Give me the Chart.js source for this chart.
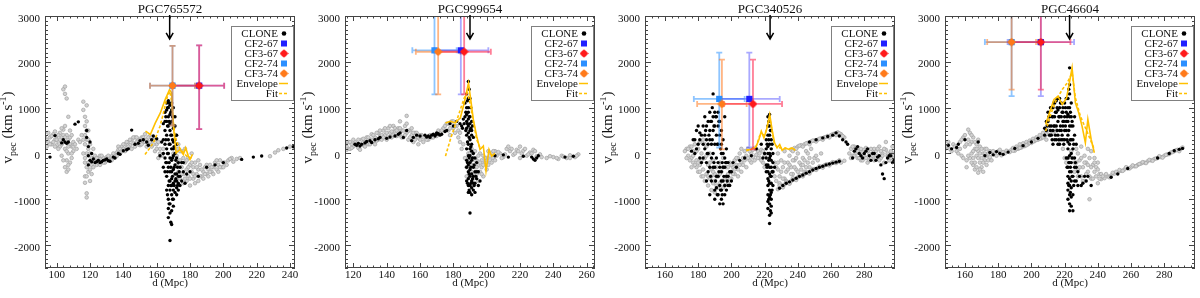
<!DOCTYPE html>
<html>
<head>
<meta charset="utf-8">
<script src="https://cdn.jsdelivr.net/npm/chart.js@4"></script>
<style>
html, body { margin: 0; padding: 0; background: #fff; }
#wrap { display: flex; width: 1200px; height: 298px; }
canvas { display: block; }
</style>
</head>
<body>
<div id="wrap">
  <canvas id="c0" width="300" height="298"></canvas>
  <canvas id="c1" width="300" height="298"></canvas>
  <canvas id="c2" width="300" height="298"></canvas>
  <canvas id="c3" width="300" height="298"></canvas>
</div>
<script>
const titles = ["PGC765572", "PGC999654", "PGC340526", "PGC46604"]
const xRanges = [[93, 243], [115, 265], [148, 298.5], [148, 298.5]]
const yRange = [-2500, 3000]
const arrowX = [167.8, 190, 223.3, 223]
const arrowV = [3000, 2500]
const legendLabels = ["CLONE", "CF2-67", "CF3-67", "CF2-74", "CF3-74", "Envelope", "Fit"]

// CLONE points, gray (light) and black
const gray1 = [[94,300],[95,250],[96,350],[97,200],[98,420],[99,300],[100,180],[100,380],[101,260],[102,450],[102,150],[103,350],[103,-50],[104,520],[104,250],[104,1400],[105,1460],[105,1300],[105,-300],[105,600],[105,100],[106,1200],[106,400],[106,-150],[106,-400],[107,300],[107,800],[107,0],[107,-350],[108,200],[108,500],[108,-200],[109,150],[109,-100],[110,250],[110,50],
  [116,1130],[116,950],[117,800],[117,600],[117,400],[117,200],[117,-200],[117,-500],[117,-640],[118,-870],[118,-960],[118,1050],[118,700],[118,300],[118,0],[118,-300],[119,500],[119,100],[119,-400],[120,-600],[120,200],[121,-250],[121,-450],[122,-100],[122,100],
  [123,-150],[124,-250],[125,-100],[125,-200],[126,-50],[127,-150],[128,-100],[129,-200],[130,-80],[131,-120],[132,-150],[133,-60],[134,-100],[135,-30],
  [136,20],[137,80],[138,0],[139,150],[140,100],[141,200],[142,120],[143,250],[144,180],[145,300],[146,220],[147,350],[148,250],[149,300],[150,180],[151,350],[152,250],[153,420],[154,300],[155,200],[156,380],[157,150],[158,300],[159,50],[160,200],[161,-100],[162,100],
  [170,0],[171,-100],[172,-250],[172,100],[173,-400],[173,200],[174,-150],[174,-550],[175,-300],[175,50],[176,-450],[176,-650],[177,-200],[177,100],[178,-350],[178,-600],[179,-100],[179,-500],[180,-700],[180,-250],[181,-400],[181,0],[182,-550],[182,-300],[183,-200],[183,-650],[184,-450],[185,-350],[185,-600],[186,-250],[187,-500],[188,-400],[189,-300],[190,-450],[191,-350],[192,-250],[193,-400],[194,-300],[195,-200],[196,-350],[197,-250],[198,-150],[199,-300],
  [200,-200],[203,-150],[205,-100],[206,-180],[208,-120],[228,-60],[231,20],[233,70],[236,100],[240,150],
  [93,350],[94,150],[95,450],[96,200],[97,380],[98,250],[99,150],[99,480],[100,300],[101,400],[101,100],[102,300],[103,200],[103,550],[104,400],[104,-150],[105,350],[106,50],[107,150],[107,-250],[108,350],[109,400],[109,0],[110,150],[111,200],[112,100],[113,300],[114,250],[115,400],[116,300],[116,0],[117,-100],[118,500],[118,-500],[119,-200],[119,300],[120,0],[120,-350],[121,-100],[122,-300],[123,-50],[124,-100],[126,-250],[127,-50],[128,-200],[130,-150],[131,-50],[133,-150],[134,0],[136,-60],[137,150],[138,100],[139,50],[140,200],[141,50],[142,250],[143,150],[144,300],[145,100],[146,350],[147,150],[148,350],[149,200],[150,300],[151,200],[152,350],[153,250],[154,150],[155,350],[156,250],[157,350],[158,200],[159,300],[160,100],[161,250],[162,0],[163,-50],[164,100],
  [172,-50],[173,-200],[174,50],[175,-450],[176,-100],[177,-550],[178,-150],[179,-300],[180,-550],[181,-200],[182,-450],[183,-500],[184,-300],[185,-150],[186,-500],[187,-350],[188,-550],[189,-450],[190,-250],[191,-500],[192,-400],[193,-300],[194,-450],[196,-150],[197,-400],[198,-300],[200,-300],[201,-200],[202,-250],[204,-120],[210,-100]]
const black1 = [[96,-80],[99,390],[104,300],[105,250],[106,220],[111,640],[113,690],[118,350],[119,150],[119,-50],[120,250],[120,-150],[121,0],[122,-120],[124,-180],[126,-200],[128,-150],[130,-120],[132,-170],[135,-100],[138,-20],[140,60],[143,100],[145,510],[147,200],[150,280],[152,300],[155,180],[158,380],
  [165,900],[166,1100],[166,700],[166,400],[166,100],[166,-200],[166,-500],[167,1000],[167,800],[167,600],[167,300],[167,0],[167,-300],[167,-700],[167,-1200],[167,-1400],[168,1050],[168,850],[168,500],[168,200],[168,-100],[168,-400],[168,-800],[168,-1100],[168,-1900],[169,950],[169,700],[169,400],[169,100],[169,-150],[169,-550],[169,-900],[169,-1250],[169,-1550],[170,800],[170,550],[170,250],[170,-50],[170,-350],[170,-650],[170,-1000],[171,600],[171,300],[171,-250],[171,-600],[171,-850],[172,400],[172,-450],[172,-750],[173,-500],[173,-800],[174,-300],[174,-700],[165,500],[165,200],[165,-100],[164,300],[164,650],[163,250],
  [176,-200],[180,-400],[185,-500],[190,-300],[195,-250],[200,-200],[211,-130],[218,-80],[223,-55],[238,120],[242,145],
  [164,0],[164,-300],[165,700],[165,-400],[166,950],[166,-800],[167,1150],[167,-1000],[168,650],[168,-600],[168,-1300],[169,1100],[169,-400],[169,-700],[170,1000],[170,100],[170,-800],[170,-1150],[171,800],[171,0],[171,-450],[172,200],[172,-100],[172,-600],[172,-900],[173,-200],[173,-650],[174,-500],[175,-600],[175,-200],[176,-400],[177,-650],[178,-450],
  [121,-180],[123,-200],[125,-150],[127,-180],[129,-140],[131,-160],[134,-80],[137,0],[142,80],[149,220],[154,250],[157,300],[160,320],[162,-50],[107,250],[103,230],[118,500],[119,-250],
  [165.5,800],[165.5,300],[165.5,-200],[166.5,1000],[166.5,600],[166.5,0],[166.5,-400],[166.5,-900],[167.5,1100],[167.5,700],[167.5,200],[167.5,-200],[167.5,-600],[167.5,-1100],[168.5,900],[168.5,400],[168.5,-300],[168.5,-700],[168.5,-1500],[169.5,800],[169.5,300],[169.5,-100],[169.5,-500],[169.5,-1000],[170.5,600],[170.5,150],[170.5,-300],[170.5,-700],[171.5,400],[171.5,-150],[171.5,-550],[172.5,-300],[172.5,-700],[173.5,-400]]

const gray2 = [[116,150],[117,250],[118,100],[119,200],[120,150],[121,250],[123,120],[124,200],[125,300],[126,180],[127,250],[128,350],[129,200],[130,300],[131,420],[132,250],[133,350],[134,280],[135,450],[136,380],[137,300],[138,500],[139,400],[140,300],[141,550],[142,450],[143,350],[144,600],[145,480],[146,380],[147,550],[148,700],[148,420],[149,500],[150,350],[151,600],[152,820],[152,450],[153,300],[154,500],[155,400],[156,250],[157,450],[158,350],[159,200],[160,300],[161,400],[162,250],[163,350],[165,300],[167,350],[169,400],[172,450],[174,550],[176,650],[177,500],[178,400],[179,700],[180,550],[181,450],[182,600],[183,350],[184,250],[185,100],
  [187,-100],[188,-300],[189,0],[190,-200],[191,-400],[191,100],[192,-100],[192,-550],[193,-300],[193,50],[194,-450],[194,-150],[195,-250],[195,-600],[196,0],[196,-400],[197,-150],[197,-300],[198,-50],[198,-500],[199,-200],[200,-100],[200,-350],[201,50],[202,-150],[203,0],[204,-100],[205,50],[206,-50],[208,0],[210,-80],[212,100],[214,50],[216,-30],[218,80],[220,150],[221,0],[222,60],[224,-50],[226,20],[228,80],[230,-60],[232,-20],[240,-80],[243,-120],[245,-50],[248,-100],[250,-40],[253,-80],[255,-20],
  [115,200],[116,80],[118,250],[119,120],[120,300],[122,180],[123,300],[124,80],[126,320],[127,150],[129,350],[130,200],[131,300],[132,400],[133,200],[134,450],[135,300],[136,500],[137,400],[138,350],[139,550],[140,450],[141,350],[142,600],[143,480],[144,400],[145,550],[146,500],[147,400],[148,550],[149,350],[150,500],[151,400],[152,650],[153,500],[154,350],[155,550],[156,450],[157,300],[158,450],[159,350],[160,400],[162,350],[164,300],[166,400],[168,350],[170,380],[171,500],[173,500],[175,600],[177,650],[178,550],[180,700],[181,600],[183,500],[184,450],[186,200],
  [188,-500],[189,-200],[190,0],[191,-250],[192,-450],[193,-150],[194,-300],[195,-50],[196,-200],[197,-450],[198,-250],[199,-100],[200,-200],[201,-250],[202,-50],[203,-200],[204,50],[205,-150],[207,30],[209,-100],[211,-20],[213,150],[215,100],[217,0],[219,50],[220,-100],[223,100],[225,-20],[227,0],[229,50],[233,-80],[236,-100],[238,-60],[242,-100],[246,-70],[250,-100],[254,-50]]
const black2 = [[121,200],[122,180],[123,220],[124,160],[127,230],[131,240],[133,300],[136,350],[140,330],[145,380],[148,450],[150,350],[152,500],[155,280],[158,400],[160,380],[163,400],[164,360],[165,380],[166,350],[167,400],[168,420],[169,380],[170,450],[172,400],[175,480],[178,650],[180,600],[182,700],
  [189,1570],[189,1200],[188,1000],[189,900],[188,700],[189,600],[190,800],[190,500],[191,700],[190,300],[189,200],[191,400],[190,100],[189,-50],[190,-200],[188,-300],[189,-400],[190,-500],[191,-600],[189,-700],[190,-850],[192,-800],[191,-900],[193,-650],[190,-1300],[192,-300],[193,-100],[188,400],[187,800],[191,200],[192,0],[194,-400],[195,-700],[188,-600],[189,-850],
  [205,-50],[210,-30],[213,-80],[222,-60],[227,-80],[228,-120],[229,-150],[230,-100],[231,-50],[247,-80],[252,-60],
  [187,1100],[188,1300],[188,850],[188,550],[188,100],[188,-150],[189,1000],[189,750],[189,450],[189,-250],[189,-550],[190,1200],[190,650],[190,-50],[190,-350],[190,-700],[191,500],[191,50],[191,-150],[191,-450],[191,-750],[192,350],[192,-500],[192,-650],[193,-400],[193,-850],[194,-200],[194,-550],[195,-400],[196,-600],[185,600],[186,750],[184,650],[170,420],[171,430],[173,420],[176,500],[128,260],[125,200],[130,280],[135,320],[142,360],[147,420],[156,350],
  [187.5,900],[187.5,500],[188.5,1150],[188.5,650],[188.5,250],[188.5,-200],[188.5,-650],[189.5,1400],[189.5,800],[189.5,350],[189.5,-100],[189.5,-450],[189.5,-800],[190.5,1000],[190.5,550],[190.5,150],[190.5,-300],[190.5,-650],[191.5,600],[191.5,-100],[191.5,-550],[192.5,-250],[192.5,-700],[193.5,-500],[186.5,650],[185.5,550]]

const gray3 = [[173,100],[174,-50],[175,150],[176,-100],[177,50],[177,-200],[178,200],[179,-150],[179,-300],[180,100],[180,-400],[181,250],[181,-250],[182,0],[182,-500],[183,300],[183,-350],[184,-100],[184,-600],[185,150],[185,-450],[186,-250],[186,-700],[187,0],[187,-550],[188,-350],[188,-800],[189,-150],[189,-650],[190,-450],[190,-850],[191,-300],[191,-700],[192,-500],[193,-200],[193,-650],[194,-400],[195,-750],[195,-100],[196,-550],[197,-300],[198,-450],[198,-650],[199,-200],[200,-400],[200,-550],[201,-300],[202,-150],[202,-450],[203,-250],[204,-100],[204,-350],[205,0],[206,-200],[206,100],[207,-100],[208,50],[209,-50],[210,100],[211,-150],[212,0],[213,-80],[214,120],[215,-30],[216,50],[217,-100],[218,80],[219,-200],
  [220,-300],[225,-400],[226,-200],[227,-600],[228,0],[228,-350],[229,-500],[230,-700],[230,-150],[231,-300],[232,-550],[232,50],[233,-400],[234,-200],[235,-650],[235,-50],[236,-300],[237,-450],[238,-150],[239,-350],[240,0],[241,-500],[242,-250],[243,-100],[244,-400],[245,50],[246,-200],[247,-300],[248,100],[250,-100],
  [236,80],[238,120],[240,150],[242,180],[244,200],[246,230],[248,260],[250,280],[252,300],[254,330],[256,350],[258,380],[260,400],[262,430],[264,460],[266,420],[268,350],
  [228,-780],[230,-720],[232,-680],[234,-640],[236,-600],[238,-560],[240,-520],[242,-480],[244,-450],[246,-420],[248,-380],[250,-340],[252,-320],[254,-290],[256,-260],[258,-240],[260,-220],[262,-200],[264,-180],[266,-200],[268,-160],
  [272,100],[273,-50],[274,150],[275,0],[276,-100],[277,80],[278,-150],[279,30],[280,-50],[281,120],[282,-200],[283,0],[284,-100],[285,80],[286,-150],[287,50],[288,-50],[289,150],[290,-100],[291,0],[292,-200],[293,80],[294,-50],[295,-150],[296,50],[297,-100],[293,250],
  [172,50],[173,-100],[174,100],[175,-150],[176,150],[176,-300],[177,-50],[178,-250],[179,50],[180,-200],[181,-400],[182,-150],[183,-500],[184,200],[185,-50],[186,-500],[187,-200],[188,-500],[189,-400],[190,-600],[191,-500],[192,-750],[193,-450],[194,-600],[195,-300],[196,-700],[197,-500],[198,-300],[199,-550],[200,-250],[201,-450],[202,-350],[203,-100],[204,-500],[205,-250],[206,-400],[207,-250],[208,-150],[209,-300],[210,-100],[211,50],[212,-200],[213,80],[214,-150],[215,100],[216,-100],[217,0],[218,-150],[219,50],[220,-50],
  [226,-500],[227,-300],[228,-200],[229,-650],[230,-400],[231,-550],[232,-200],[233,-600],[234,-350],[235,-250],[236,-450],[237,-150],[238,-300],[239,-100],[240,-400],[241,-200],[242,-350],[243,-250],[244,-150],[245,-300],[246,0],[247,-100],[249,-200],[251,-50],[252,-150],[254,0],
  [237,50],[239,100],[241,170],[243,150],[245,220],[247,200],[249,280],[251,260],[253,320],[255,300],[257,360],[259,350],[261,420],[263,400],[265,440],[267,380],
  [229,-700],[231,-740],[233,-620],[235,-660],[237,-540],[239,-580],[241,-480],[243,-500],[245,-400],[247,-440],[249,-340],[251,-360],[253,-280],[255,-310],[257,-240],[259,-260],[261,-190],[263,-210],[265,-150],
  [271,0],[272,-100],[273,150],[274,-50],[275,100],[276,50],[277,-100],[278,100],[279,-150],[280,80],[281,-100],[282,50],[283,-150],[284,100],[285,-50],[286,100],[287,-100],[288,100],[289,-150],[290,50],[291,-50],[292,100],[294,0],[296,-100],[297,150],[298,0]]
const black3 = [[176,50],[177,300],[178,0],[179,500],[180,200],[181,-100],[182,400],[183,600],[184,100],[184,800],[185,300],[185,-200],[186,700],[186,-400],[187,500],[187,900],[188,200],[188,-600],[189,800],[189,1300],[189,-300],[190,600],[190,-800],[190,-1000],[191,400],[191,-500],[192,900],[192,-200],[192,-900],[193,700],[193,-700],[193,-1100],[194,500],[194,0],[194,-400],[194,-800],[195,300],[195,-600],[195,-1100],[196,800],[196,-300],[196,-900],[197,100],[197,-500],[197,-800],[198,-200],[198,-700],[199,-400],[200,-600],[201,-200],[203,-300],[185,-600],[187,-900],[186,200],[183,-100],[181,450],
  [222,800],[223,850],[223,600],[222,400],[224,500],[223,200],[222,0],[224,100],[223,-100],[222,-250],[224,-300],[223,-450],[222,-550],[224,-650],[223,-800],[222,-900],[224,-1000],[223,-1100],[222,-1200],[224,-1300],[223,-1530],[221,300],[225,-200],[221,-400],[225,-700],[222,150],[224,-850],[223,-1350],[221,-100],[225,0],
  [205,-150],[208,-100],[212,-50],[215,100],[218,200],[219,-100],
  [229,-760],[231,-700],[233,-650],[235,-620],[237,-580],[239,-540],[241,-500],[243,-470],[245,-430],[247,-400],[249,-360],[251,-330],[253,-300],[255,-280],[257,-250],[259,-230],[261,-210],[263,-190],[265,-170],
  [247,250],[251,300],[255,340],[258,370],[261,400],[263,450],[265,380],[267,300],[269,250],[270,200],
  [274,50],[276,150],[278,-50],[280,0],[282,100],[284,-150],[286,0],[288,-80],[290,-250],[291,-450],[292,-550],[294,-100],[296,-50],[298,-150],
  [178,300],[179,100],[180,600],[181,300],[182,-200],[183,200],[184,400],[185,600],[186,0],[187,300],[187,-300],[188,700],[188,-100],[189,500],[189,0],[190,900],[190,200],[190,-300],[191,800],[191,-100],[191,-750],[192,600],[192,200],[192,-500],[193,400],[193,-300],[194,200],[194,-600],[194,-1000],[195,0],[195,-300],[196,-100],[196,-700],[197,-200],[198,-500],[199,-700],[200,-400],
  [221,100],[221,-250],[222,600],[222,-400],[222,-700],[222,-1050],[223,400],[223,0],[223,-300],[223,-650],[223,-950],[224,300],[224,-150],[224,-500],[224,-1150],[225,-400],[220,0],[226,-300],
  [273,-100],[275,100],[277,0],[279,-100],[281,50],[283,-50],[285,0],[287,-150],[289,-50],[293,-200],[295,-50],[297,-200],
  [184.5,500],[185.5,0],[186.5,400],[187.5,700],[187.5,-500],[188.5,1000],[188.5,300],[189.5,600],[189.5,-200],[190.5,800],[190.5,-600],[191.5,200],[191.5,-900],[192.5,700],[192.5,-400],[193.5,100],[193.5,-800],[194.5,-200],[194.5,-900],[195.5,-500],[196.5,-200],[197.5,-600],
  [221.5,200],[221.5,-300],[222.5,700],[222.5,300],[222.5,-150],[222.5,-600],[222.5,-1000],[223.5,500],[223.5,-50],[223.5,-500],[223.5,-900],[223.5,-1250],[224.5,200],[224.5,-400],[224.5,-800]]

const gray4 = [[149,150],[151,100],[153,200],[155,50],[157,250],[158,-50],[159,350],[160,150],[161,-150],[162,520],[162,300],[163,-100],[163,450],[164,0],[164,250],[165,-250],[165,350],[166,100],[166,-350],[167,-50],[167,200],[168,-420],[168,50],[169,-200],[169,150],[170,-100],[170,-300],[171,0],[172,-150],[172,100],[173,-50],[174,0],[175,-80],[176,30],[178,-20],[180,50],[182,-40],[184,0],[186,40],[188,80],
  [189,120],[190,60],[191,150],[192,100],[193,200],[194,130],[195,220],[196,160],[197,250],[198,200],[199,280],[200,230],[201,320],[202,270],[203,350],[204,300],[205,400],[206,330],[207,450],[208,380],[209,300],[210,500],
  [222,-100],[224,50],[226,-200],[227,100],[228,-350],[228,0],[229,-150],[230,-500],[230,150],[231,-300],[232,-50],[232,-600],[233,-200],[234,100],[234,-400],[235,-100],[236,-550],[236,50],[237,-250],[238,-400],[238,-100],[239,-300],[240,-650],[240,-200],[241,-450],[235,-1000],
  [242,-560],[244,-540],[246,-500],[248,-480],[250,-440],[252,-420],[254,-380],[256,-350],[258,-320],[260,-300],[262,-280],[264,-250],[266,-220],[268,-200],[270,-170],[272,-150],[274,-120],[276,-100],[278,-80],[280,-50],[282,-20],[284,20],[286,50],[288,80],[290,100],
  [148,100],[150,250],[152,50],[154,150],[156,0],[157,100],[158,300],[159,-100],[160,400],[161,200],[161,-300],[162,-50],[163,200],[164,-200],[164,400],[165,50],[165,-100],[166,250],[166,-200],[167,-300],[167,100],[168,-100],[168,300],[169,-350],[169,0],[170,100],[171,-200],[171,-400],[172,0],[173,-250],[173,100],[174,-150],[175,50],[176,-150],[177,50],[179,-50],[181,80],[183,30],[185,60],[187,30],[189,60],[191,100],[193,120],[195,160],[197,180],[199,230],[201,260],[203,300],[205,320],[207,350],[209,420],[211,400],[213,450],[215,500],[217,300],[219,100],
  [220,-100],[221,-200],[225,-100],[226,-400],[227,-200],[228,-500],[229,-300],[230,-100],[231,-600],[232,-200],[233,-450],[234,-250],[235,-500],[236,-300],[237,-550],[238,-200],[239,-500],[240,-350],[241,-550],[242,-450],[243,-500],[245,-450],[247,-520],[249,-420],[251,-400],[253,-360],[255,-380],[257,-300],[259,-330],[261,-260],[263,-280],[265,-230],[267,-190],[269,-210],[271,-140],[273,-160],[275,-110],[277,-60],[279,-90],[281,-30],[283,-10],[285,30],[287,70],[289,50],[291,130]]
const black4 = [[150,180],[152,100],[155,130],[156,200],[160,300],[168,250],[172,-50],[175,20],[177,-30],[179,40],[181,0],[183,-20],[186,30],[190,110],[195,170],[200,250],[204,330],[208,400],[209,700],[210,900],
  [211,600],[212,1000],[212,400],[213,800],[213,200],[214,1100],[214,600],[215,900],[215,300],[216,1200],[216,700],[216,400],[217,1000],[217,500],[217,200],[218,800],[218,1100],[219,600],[219,300],[219,900],
  [221,1200],[222,1000],[222,700],[223,1868],[223,1500],[223,1300],[222,400],[223,800],[224,1100],[224,600],[223,200],[222,100],[224,0],[223,-200],[222,-300],[224,-400],[223,-550],[222,-650],[224,-750],[223,-900],[222,-1000],[224,-1150],[223,-1250],[225,-1250],[221,-100],[225,300],[225,-500],[226,-300],[226,800],[221,500],[220,300],[220,800],[227,-600],[228,-400],
  [230,-700],[232,-500],[236,-700],[248,-520],[252,-450],[258,-330],[276,-100],[283,0],[286,60],[289,90],[291,110],
  [208,550],[209,500],[210,700],[211,800],[211,400],[212,600],[213,1000],[213,500],[214,800],[214,300],[215,1150],[215,600],[216,950],[216,200],[217,800],[217,1200],[218,500],[218,300],[219,1000],[219,700],[220,1100],[220,500],[221,900],[221,700],[222,1200],[222,850],[222,250],[222,-100],[222,-500],[222,-800],[223,1000],[223,600],[223,-50],[223,-400],[223,-700],[223,-1100],[224,800],[224,300],[224,-200],[224,-600],[224,-950],[225,600],[225,100],[225,-900],[226,400],[226,-100],[226,-600],[227,200],[227,-300],[228,-700],[229,-500],[231,-650],[233,-600],[234,-500],
  [209.5,600],[210.5,800],[211.5,1000],[211.5,500],[212.5,800],[212.5,300],[213.5,1100],[213.5,600],[214.5,900],[214.5,400],[215.5,1000],[215.5,500],[216.5,800],[216.5,300],[217.5,1100],[217.5,600],[218.5,900],[218.5,400],[219.5,700],[219.5,200],[220.5,1000],[220.5,600],[221.5,800],[221.5,300],[221.5,-300],[222.5,1400],[222.5,500],[222.5,-200],[222.5,-700],[223.5,900],[223.5,300],[223.5,-300],[223.5,-850],[224.5,700],[224.5,-100],[224.5,-500],[225.5,200],[225.5,-700],[226.5,-200]]

// Envelope and fit curves
const env1 = [[153.3,486],[156.2,413],[159.2,667],[162.2,884],[165.1,1175],[167.7,1392],[169,1320],[170,595],[171.7,14],[174,87],[176,-22],[177.4,123],[179,-58],[180,-130],[181.5,-22]]
const fit1 = [[153,-22],[155.5,100],[158,232],[160,400],[162,595],[163.5,800],[165,1030],[166.5,1250],[167.7,1356],[168.5,1250],[169,1100],[170,700],[171,377],[173,160],[176,14],[179,-94],[181,-94]]
const env2 = [[175.3,667],[178.2,703],[181.2,667],[182.5,720],[184.2,775],[186.5,1102],[189.1,1537],[190.7,1102],[192,740],[194,377],[196,87],[198,160],[199.6,-380],[201.4,87],[203,-58],[205,0]]
const fit2 = [[175.3,-58],[178.2,305],[181.2,630],[184.2,957],[186.5,1210],[188.5,1320],[190,1100],[192,703],[194,305],[196,123]]
const env3 = [[209,80],[211.6,87],[214.6,130],[216.6,305],[218,486],[219.6,340],[221.2,522],[223.1,848],[224.5,522],[226,232],[227.5,123],[229.1,196],[230.5,72],[232.5,123],[234.5,87],[236.5,123],[238.5,70]]
const fit3 = [[209,60],[212,100],[215,160],[217,380],[218.5,420],[220,400],[221.5,560],[223,800],[224.5,480],[226,200],[228,130],[230,120],[232,110],[234,100],[236,110],[238,80]]
const env4 = [[208.6,632],[211.2,923],[213.6,1178],[216,1250],[218.6,1069],[221.2,1214],[224.5,1868],[226.5,1105],[228.5,887],[230.5,596],[232.5,233],[234,741],[236,305],[237.9,15]]
const fit4 = [[208.6,487],[211.6,850],[214.6,1141],[218.6,1396],[221.6,1541],[224.5,1760],[226.5,1214],[229.5,814],[232.5,560],[235.5,305],[237.9,87]]

// distance / velocity estimates with error ranges: [x, y, xlo, xhi, ylo, yhi]
const cf2_67 = [[185.5,1480,170.5,200.5,530,2360],[184.5,2250,168.5,201,1290,3210],[210.8,1190,192.5,229.1,130,2200],[205.7,2430,185.7,225.7,1250,3610]]
const cf3_67 = [[185.5,1480,170.5,200.5,530,2360],[186.5,2220,170.5,202.5,1290,3150],[213,1080,195.5,230.5,90,2050],[205.7,2430,188,223.5,1395,3465]]
const cf2_74 = [[169.5,1480,156,183,610,2350],[168.7,2250,155.4,182,1290,3210],[192.7,1190,177.4,208,130,2200],[188.1,2430,172,204,1250,3610]]
const cf3_74 = [[169.5,1480,156,183,610,2350],[170.9,2220,157.5,184.3,1290,3150],[194.3,1080,179.4,209.2,90,2050],[188.1,2430,173.4,202.8,1395,3465]]

const grays = [gray1, gray2, gray3, gray4]
const blacks = [black1, black2, black3, black4]
const envs = [env1, env2, env3, env4]
const fits = [fit1, fit2, fit3, fit4]

const FONT = '"Liberation Serif", "Times New Roman", serif'
const GOLD = "#ffc000"
const C67 = "#1f1fff", R67 = "#ff1a1a", C74 = "#2b8fff", O74 = "#ff7a1a"
const errColors = { cf2_74: "rgba(30,140,255,0.5)", cf3_74: "rgba(255,120,30,0.55)", cf2_67: "rgba(40,40,255,0.4)", cf3_67: "rgba(255,40,80,0.6)" }

const pts = arr => arr.map(p => ({ x: p[0], y: p[1] }))

function makeStar(color) {
    const c = document.createElement("canvas")
    c.width = 9; c.height = 9
    const g = c.getContext("2d")
    g.fillStyle = color
    g.beginPath()
    g.moveTo(4.5, 0.2); g.lineTo(8.8, 4.5); g.lineTo(4.5, 8.8); g.lineTo(0.2, 4.5)
    g.closePath(); g.fill()
    g.beginPath(); g.arc(4.5, 4.5, 3.1, 0, Math.PI * 2); g.fill()
    return c
}
const starRed = makeStar(R67)
const starOrange = makeStar(O74)

function drawErr(ctx, xs, ys, e, color) {
    const px = xs.getPixelForValue(e[0]), py = ys.getPixelForValue(e[1])
    const l = xs.getPixelForValue(e[2]), r = xs.getPixelForValue(e[3])
    const b = ys.getPixelForValue(e[4]), t = ys.getPixelForValue(e[5])
    ctx.strokeStyle = color
    ctx.lineWidth = 1.8
    ctx.beginPath()
    ctx.moveTo(l, py); ctx.lineTo(r, py)
    ctx.moveTo(px, t); ctx.lineTo(px, b)
    ctx.moveTo(l, py - 3); ctx.lineTo(l, py + 3)
    ctx.moveTo(r, py - 3); ctx.lineTo(r, py + 3)
    ctx.moveTo(px - 3, t); ctx.lineTo(px + 3, t)
    ctx.moveTo(px - 3, b); ctx.lineTo(px + 3, b)
    ctx.stroke()
}

function drawYTitle(ctx, cx, cy) {
    const big = "15px " + FONT, small = "10px " + FONT
    const parts = [["v", big, 0], ["pec", small, 3.5], [" (km s", big, 0], ["-1", small, -6], [")", big, 0]]
    ctx.save()
    ctx.translate(cx, cy)
    ctx.rotate(-Math.PI / 2)
    ctx.textAlign = "left"
    ctx.textBaseline = "alphabetic"
    let w = 0
    parts.forEach(p => { ctx.font = p[1]; w += ctx.measureText(p[0]).width })
    let xx = -w / 2
    parts.forEach(p => {
        ctx.font = p[1]
        ctx.fillText(p[0], xx, p[2])
        xx += ctx.measureText(p[0]).width
    })
    ctx.restore()
}

function drawLegend(ctx) {
    const L = 231, T = 26, R = 294, B = 101
    ctx.save()
    ctx.fillStyle = "#fff"
    ctx.fillRect(L, T, R - L, B - T)
    ctx.strokeStyle = "#808080"
    ctx.lineWidth = 1
    ctx.strokeRect(L + 0.5, T + 0.5, R - L - 1, B - T - 1)
    ctx.font = "11px " + FONT
    ctx.textAlign = "right"
    ctx.textBaseline = "alphabetic"
    legendLabels.forEach((t, i) => {
        const y = 33.5 + i * 10
        ctx.fillStyle = "#111"
        ctx.fillText(t, 278, y + 3.6)
        const sx = 284
        if (i === 0) { ctx.fillStyle = "#000"; ctx.beginPath(); ctx.arc(sx, y, 2.3, 0, Math.PI * 2); ctx.fill() }
        if (i === 1) { ctx.fillStyle = C67; ctx.fillRect(sx - 3, y - 3, 6, 6) }
        if (i === 2) ctx.drawImage(starRed, sx - 4.5, y - 4.5)
        if (i === 3) { ctx.fillStyle = C74; ctx.fillRect(sx - 3, y - 3, 6, 6) }
        if (i === 4) ctx.drawImage(starOrange, sx - 4.5, y - 4.5)
        if (i >= 5) {
            ctx.strokeStyle = GOLD
            ctx.lineWidth = 1.5
            ctx.setLineDash(i === 6 ? [3, 2] : [])
            ctx.beginPath(); ctx.moveTo(sx - 5, y); ctx.lineTo(sx + 4, y); ctx.stroke()
            ctx.setLineDash([])
        }
    })
    ctx.restore()
}

function panelPlugin(p) {
    return {
        id: "panel" + p,
        beforeDatasetDraw(chart, args) {
            if (args.index !== 3) return
            const { ctx, chartArea: a, scales: { x, y } } = chart
            ctx.save()
            ctx.beginPath()
            ctx.rect(a.left, a.top, a.right - a.left, a.bottom - a.top)
            ctx.clip()
            drawErr(ctx, x, y, cf2_74[p], errColors.cf2_74)
            drawErr(ctx, x, y, cf3_74[p], errColors.cf3_74)
            drawErr(ctx, x, y, cf2_67[p], errColors.cf2_67)
            drawErr(ctx, x, y, cf3_67[p], errColors.cf3_67)
            ctx.restore()
        },
        afterDraw(chart) {
            const { ctx, chartArea: a, scales: { x, y } } = chart
            ctx.save()
            // frame
            ctx.strokeStyle = "#444"
            ctx.lineWidth = 1
            ctx.strokeRect(a.left + 0.5, a.top + 0.5, a.right - a.left - 1, a.bottom - a.top - 1)
            // ticks
            ctx.beginPath()
            for (let v = Math.ceil(x.min / 4) * 4; v <= x.max; v += 4) {
                const px = Math.round(x.getPixelForValue(v)) + 0.5
                const len = v % 20 === 0 ? 5 : 2.5
                ctx.moveTo(px, a.bottom); ctx.lineTo(px, a.bottom - len)
                ctx.moveTo(px, a.top); ctx.lineTo(px, a.top + len)
            }
            for (let k = -25; k <= 30; k++) {
                const py = Math.round(y.getPixelForValue(k * 100)) + 0.5
                const len = k % 10 === 0 ? 6 : 3
                ctx.moveTo(a.left, py); ctx.lineTo(a.left + len, py)
                ctx.moveTo(a.right, py); ctx.lineTo(a.right - len, py)
            }
            ctx.stroke()
            // tick labels
            ctx.fillStyle = "#111"
            ctx.font = "11px " + FONT
            ctx.textBaseline = "alphabetic"
            ctx.textAlign = "center"
            for (let v = Math.ceil(x.min / 20) * 20; v <= x.max; v += 20) {
                ctx.fillText(String(v), x.getPixelForValue(v), 278)
            }
            ctx.textAlign = "right"
            for (let k = -2; k <= 3; k++) {
                ctx.fillText(String(k * 1000), a.left - 5, y.getPixelForValue(k * 1000) + 5.6)
            }
            // axis titles
            ctx.textAlign = "center"
            ctx.font = "11px " + FONT
            ctx.fillText("d (Mpc)", (a.left + a.right) / 2, 285.5)
            drawYTitle(ctx, 12, 127.5)
            // title
            ctx.font = "13px " + FONT
            ctx.fillText(titles[p], (a.left + a.right) / 2, 12.5)
            // arrow
            const ax = x.getPixelForValue(arrowX[p])
            const y0 = y.getPixelForValue(arrowV[0]) - 1, y1 = y.getPixelForValue(arrowV[1])
            ctx.strokeStyle = "#000"
            ctx.lineWidth = 1.5
            ctx.beginPath()
            ctx.moveTo(ax, y0); ctx.lineTo(ax, y1)
            ctx.moveTo(ax - 3.5, y1 - 6); ctx.lineTo(ax, y1); ctx.lineTo(ax + 3.5, y1 - 6)
            ctx.stroke()
            ctx.restore()
            drawLegend(ctx)
        }
    }
}

for (let p = 0; p < 4; p++) {
    new Chart(document.getElementById("c" + p), {
        type: "scatter",
        data: {
            datasets: [
                { data: pts([cf3_67[p]]), pointStyle: starRed, order: 0 },
                { data: pts([cf2_67[p]]), pointStyle: "rect", pointRadius: 4.4, backgroundColor: C67, borderWidth: 0, order: 1 },
                { data: pts([cf3_74[p]]), pointStyle: starOrange, order: 2 },
                { data: pts([cf2_74[p]]), pointStyle: "rect", pointRadius: 4.4, backgroundColor: C74, borderWidth: 0, order: 3 },
                { data: pts(envs[p]), showLine: true, pointRadius: 0, borderColor: GOLD, borderWidth: 1.6, order: 4 },
                { data: pts(fits[p]), showLine: true, pointRadius: 0, borderColor: GOLD, borderWidth: 1.6, borderDash: [3, 2], order: 5 },
                { data: pts(blacks[p]), pointRadius: 1.7, backgroundColor: "#000", borderWidth: 0, order: 6 },
                { data: pts(grays[p]), pointRadius: 1.8, backgroundColor: "#d2d2d2", borderColor: "#a0a0a0", borderWidth: 0.7, order: 7 }
            ]
        },
        options: {
            responsive: false,
            animation: false,
            events: [],
            layout: { padding: { left: 45, right: 2, top: 16, bottom: 30 } },
            scales: {
                x: { type: "linear", min: xRanges[p][0], max: xRanges[p][1], display: false },
                y: { type: "linear", min: yRange[0], max: yRange[1], display: false }
            },
            plugins: { legend: { display: false }, tooltip: { enabled: false } }
        },
        plugins: [panelPlugin(p)]
    })
}
</script>
</body>
</html>
